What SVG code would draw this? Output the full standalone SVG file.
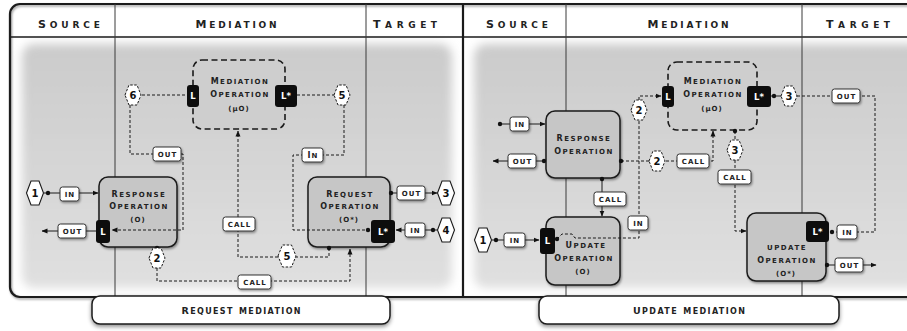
<svg xmlns="http://www.w3.org/2000/svg" width="907" height="331" viewBox="0 0 907 331">
<style>
text{font-family:"DejaVu Sans","Liberation Sans",sans-serif;fill:#222}
.hdr{font-size:12.3px;font-weight:bold;font-variant:small-caps;text-anchor:middle}
.hdr .c{font-size:11px}
.cap{font-size:11px;font-weight:bold;font-variant:small-caps;text-anchor:middle}
.cap .c{font-size:9.5px}
.nt{font-size:9.5px;font-weight:bold;font-variant:small-caps;text-anchor:middle;letter-spacing:1.5px}
.nt .c{font-size:8px}
.ns{font-size:7px;font-weight:bold;text-anchor:middle;letter-spacing:1px}
.lt{font-size:9.5px;font-weight:bold;font-variant:small-caps;text-anchor:middle;letter-spacing:1px}
.lt .c{font-size:8px}
.pt{font-size:8.5px;font-weight:bold;text-anchor:middle;fill:#fff}
.ht{font-size:10px;font-weight:bold;text-anchor:middle;fill:#111}
.sl{fill:none;stroke:#1a1a1a;stroke-width:1}
.dl{fill:none;stroke:#1a1a1a;stroke-width:1;stroke-dasharray:3 2}
.box{fill:#c6c6c6;stroke:#1a1a1a;stroke-width:1.5}
.dbox{fill:#cecece;stroke:#1a1a1a;stroke-width:1.6;stroke-dasharray:6 3.5}
.port{fill:#0d0d0d}
.lbl{fill:#fff;stroke:#333;stroke-width:1}
.hx{fill:#fff;stroke:#1a1a1a;stroke-width:1.1}
.hxd{fill:#fff;stroke:#1a1a1a;stroke-width:1;stroke-dasharray:2.5 1.5}
.dot{fill:#111}
.div{stroke:#3a3a3a;stroke-width:1}
</style>
<defs>
<linearGradient id="bg" x1="0" y1="0" x2="0" y2="1">
<stop offset="0" stop-color="#cbcbcb"/>
<stop offset="1" stop-color="#e0e0e0"/>
</linearGradient>
<filter id="blur" x="-10%" y="-10%" width="120%" height="120%"><feGaussianBlur stdDeviation="5"/></filter>
<filter id="sh" x="-20%" y="-20%" width="140%" height="150%"><feDropShadow dx="1" dy="1.5" stdDeviation="1.2" flood-color="#000" flood-opacity="0.4"/></filter>
<filter id="sh2" x="-10%" y="-30%" width="120%" height="170%"><feDropShadow dx="0" dy="2" stdDeviation="2" flood-color="#000" flood-opacity="0.45"/></filter>
<marker id="ah" viewBox="0 0 6 6" refX="5.5" refY="3" markerWidth="6" markerHeight="6" orient="auto" markerUnits="userSpaceOnUse"><path d="M0,0.5 L6,3 L0,5.5 z" fill="#111"/></marker>
</defs>

<rect x="0" y="0" width="907" height="331" fill="#fff"/>

<g id="frame">
<rect x="22" y="44" width="430" height="244" rx="12" fill="url(#bg)" filter="url(#blur)"/>
<rect x="474" y="44" width="450" height="244" rx="12" fill="url(#bg)" filter="url(#blur)"/>
<rect x="10" y="4" width="930" height="293" rx="10" fill="none" stroke="#1a1a1a" stroke-width="2.2" filter="url(#sh)"/>
<line x1="10" y1="37" x2="907" y2="37" stroke="#1a1a1a" stroke-width="1.4"/>
<line class="div" x1="115" y1="4" x2="115" y2="297"/>
<line class="div" x1="366" y1="4" x2="366" y2="297"/>
<line class="div" x1="566" y1="4" x2="566" y2="297"/>
<line class="div" x1="802" y1="4" x2="802" y2="297"/>
<line x1="463" y1="4" x2="463" y2="297" stroke="#1a1a1a" stroke-width="2.2"/>
<text class="hdr" x="69" y="28" textLength="62" lengthAdjust="spacing"><tspan class="c">S</tspan>ource</text>
<text class="hdr" x="236" y="28" textLength="81" lengthAdjust="spacing"><tspan class="c">M</tspan>ediation</text>
<text class="hdr" x="405" y="28" textLength="64" lengthAdjust="spacing"><tspan class="c">T</tspan>arget</text>
<text class="hdr" x="517" y="28" textLength="62" lengthAdjust="spacing"><tspan class="c">S</tspan>ource</text>
<text class="hdr" x="688" y="28" textLength="81" lengthAdjust="spacing"><tspan class="c">M</tspan>ediation</text>
<text class="hdr" x="858" y="28" textLength="64" lengthAdjust="spacing"><tspan class="c">T</tspan>arget</text>
</g>

<!-- Left panel nodes -->
<g id="l-mediation-op">
<rect class="dbox" x="193" y="60" width="92" height="69" rx="9"/>
<text class="nt" x="240" y="84"><tspan class="c">M</tspan>ediation</text>
<text class="nt" x="240" y="97"><tspan class="c">O</tspan>peration</text>
<text class="ns" x="239" y="111">(μO)</text>
<rect class="port" x="187" y="85" width="12" height="22" rx="3"/>
<text class="pt" x="193" y="99">L</text>
<rect class="port" x="275" y="85" width="22" height="22" rx="3"/>
<text class="pt" x="286" y="99">L*</text>
</g>
<g id="l-response-op">
<rect class="box" x="99" y="177" width="78" height="70" rx="9" filter="url(#sh)"/>
<text class="nt" x="139" y="197"><tspan class="c">R</tspan>esponse</text>
<text class="nt" x="139" y="209"><tspan class="c">O</tspan>peration</text>
<text class="ns" x="138" y="222">(O)</text>
<rect class="port" x="96" y="220" width="14" height="23" rx="3"/>
<text class="pt" x="103" y="235">L</text>
</g>
<g id="l-request-op">
<rect class="box" x="308" y="177" width="82" height="70" rx="9" filter="url(#sh)"/>
<text class="nt" x="350" y="197"><tspan class="c">R</tspan>equest</text>
<text class="nt" x="350" y="209"><tspan class="c">O</tspan>peration</text>
<text class="ns" x="349" y="222">(O*)</text>
<rect class="port" x="371" y="220" width="24" height="23" rx="3"/>
<text class="pt" x="383" y="235">L*</text>
</g>

<!-- Right panel nodes -->
<g id="r-mediation-op">
<rect class="dbox" x="668" y="62" width="89" height="68" rx="9"/>
<text class="nt" x="713" y="84"><tspan class="c">M</tspan>ediation</text>
<text class="nt" x="713" y="97"><tspan class="c">O</tspan>peration</text>
<text class="ns" x="712" y="111">(μO)</text>
<rect class="port" x="662" y="86" width="12" height="21" rx="3"/>
<text class="pt" x="668" y="99.5">L</text>
<rect class="port" x="747" y="86" width="24" height="21" rx="3"/>
<text class="pt" x="759" y="99.5">L*</text>
</g>
<g id="r-response-op">
<rect class="box" x="546" y="111" width="74" height="67" rx="9" filter="url(#sh)"/>
<text class="nt" x="584" y="141"><tspan class="c">R</tspan>esponse</text>
<text class="nt" x="584" y="154"><tspan class="c">O</tspan>peration</text>
</g>
<g id="r-update-op">
<rect class="box" x="546" y="217" width="74" height="68" rx="9" filter="url(#sh)"/>
<text class="nt" x="586" y="248"><tspan class="c">U</tspan>pdate</text>
<text class="nt" x="584" y="261"><tspan class="c">O</tspan>peration</text>
<text class="ns" x="583" y="274">(O)</text>
<rect class="port" x="540" y="228" width="15" height="26" rx="3"/>
<text class="pt" x="547.5" y="244">L</text>
</g>
<g id="r-update-op-star">
<rect class="box" x="747" y="213" width="79" height="68" rx="9" filter="url(#sh)"/>
<text class="nt" x="787" y="250">update</text>
<text class="nt" x="787" y="263"><tspan class="c">O</tspan>peration</text>
<text class="ns" x="786" y="276">(O*)</text>
<rect class="port" x="806" y="221" width="23" height="21" rx="3"/>
<text class="pt" x="817.5" y="234.5">L*</text>
</g>

<!-- Connectors -->
<g id="connectors">
<!-- left panel -->
<path class="sl" d="M44,193 H98" marker-end="url(#ah)"/>
<path class="sl" d="M96,231 H42" marker-end="url(#ah)"/>
<path class="sl" d="M391,193 H437" marker-end="url(#ah)"/>
<path class="sl" d="M437,230 H396" marker-end="url(#ah)"/>
<path class="dl" d="M142,95 H187"/>
<path class="dl" d="M297,95 H334"/>
<path class="dl" d="M130,105 V154 H183 V230 H112" marker-end="url(#ah)"/>
<path class="dl" d="M344,105 V155 H293 V230 H368"/>
<path class="dl" d="M157,268 V281 H350 V249" marker-end="url(#ah)"/>
<path class="dl" d="M329,248 V257 H238 V131" marker-end="url(#ah)"/>
<circle class="dot" cx="48" cy="193" r="2.2"/>
<circle class="dot" cx="391" cy="193" r="2.2"/>
<circle class="dot" cx="433" cy="230" r="2.2"/>
<circle class="dot" cx="368" cy="230" r="2.2"/>
<circle class="dot" cx="157" cy="248" r="2.2"/>
<circle class="dot" cx="329" cy="248" r="2.2"/>
<!-- right panel -->
<path class="sl" d="M500,124 H545" marker-end="url(#ah)"/>
<path class="sl" d="M544,161 H493" marker-end="url(#ah)"/>
<path class="dl" d="M621,161 H713 V131" marker-end="url(#ah)"/>
<path class="sl" d="M602,179 V216" marker-end="url(#ah)"/>
<path class="sl" d="M492,240 H539" marker-end="url(#ah)"/>
<path class="dl" d="M557,239 L562,234 H572 L575,238 H639 V120"/>
<path class="dl" d="M639,100 V96 H661" marker-end="url(#ah)"/>
<path class="sl" d="M771,96 H781"/>
<path class="dl" d="M797,96 H875 V232 H833"/>
<path class="dl" d="M735,131 V140"/>
<path class="dl" d="M735,160 V231 H746" marker-end="url(#ah)"/>
<path class="sl" d="M827,265 H876" marker-end="url(#ah)"/>
<circle class="dot" cx="500" cy="124" r="2.2"/>
<circle class="dot" cx="544" cy="161" r="2.2"/>
<circle class="dot" cx="621" cy="161" r="2.2"/>
<circle class="dot" cx="602" cy="179" r="2.2"/>
<circle class="dot" cx="496" cy="240" r="2.2"/>
<circle class="dot" cx="557" cy="239" r="2.2"/>
<circle class="dot" cx="774" cy="96" r="2.2"/>
<circle class="dot" cx="832" cy="232" r="2.2"/>
<circle class="dot" cx="735" cy="131" r="2.2"/>
<circle class="dot" cx="827" cy="265" r="2.2"/>
<!-- labels -->
<rect class="lbl" x="60" y="187" width="19" height="14" rx="2.5" filter="url(#sh)"/><text class="lt" x="70" y="197">in</text>
<rect class="lbl" x="58" y="224" width="28" height="14" rx="2.5" filter="url(#sh)"/><text class="lt" x="72.5" y="234">out</text>
<rect class="lbl" x="153" y="147" width="28" height="14" rx="2.5" filter="url(#sh)"/><text class="lt" x="167.5" y="157">out</text>
<rect class="lbl" x="302" y="148" width="21" height="14" rx="2.5" filter="url(#sh)"/><text class="lt" x="313" y="158.3"><tspan class="c">I</tspan>n</text>
<rect class="lbl" x="223" y="217" width="32" height="14" rx="2.5" filter="url(#sh)"/><text class="lt" x="239.5" y="227">call</text>
<rect class="lbl" x="238" y="275" width="33" height="14" rx="2.5" filter="url(#sh)"/><text class="lt" x="255" y="285">call</text>
<rect class="lbl" x="397" y="186" width="28" height="14" rx="2.5" filter="url(#sh)"/><text class="lt" x="411.5" y="196">out</text>
<rect class="lbl" x="405" y="223" width="20" height="14" rx="2.5" filter="url(#sh)"/><text class="lt" x="415.5" y="233">in</text>
<rect class="lbl" x="510" y="117" width="19" height="14" rx="2.5" filter="url(#sh)"/><text class="lt" x="520" y="127">in</text>
<rect class="lbl" x="508" y="154" width="28" height="14" rx="2.5" filter="url(#sh)"/><text class="lt" x="522.5" y="164">out</text>
<rect class="lbl" x="677" y="154" width="32" height="14" rx="2.5" filter="url(#sh)"/><text class="lt" x="693.5" y="164">call</text>
<rect class="lbl" x="594" y="192" width="32" height="14" rx="2.5" filter="url(#sh)"/><text class="lt" x="610.5" y="202">call</text>
<rect class="lbl" x="628" y="216" width="20" height="14" rx="2.5" filter="url(#sh)"/><text class="lt" x="638.5" y="226">in</text>
<rect class="lbl" x="504" y="233" width="21" height="14" rx="2.5" filter="url(#sh)"/><text class="lt" x="515" y="243">in</text>
<rect class="lbl" x="832" y="89" width="28" height="14" rx="2.5" filter="url(#sh)"/><text class="lt" x="846.5" y="99">out</text>
<rect class="lbl" x="718" y="170" width="33" height="14" rx="2.5" filter="url(#sh)"/><text class="lt" x="735" y="180">call</text>
<rect class="lbl" x="837" y="225" width="20" height="14" rx="2.5" filter="url(#sh)"/><text class="lt" x="847.5" y="235">in</text>
<rect class="lbl" x="835" y="258" width="28" height="14" rx="2.5" filter="url(#sh)"/><text class="lt" x="849.5" y="268">out</text>
</g>

<!-- Numbered hexagons -->
<g id="hex-l1"><polygon class="hx" points="26.5,193 31,181 39,181 43.5,193 39,205 31,205"/><text class="ht" x="35" y="196.6">1</text></g>
<g id="hex-l3"><polygon class="hx" points="437.5,193 442,181 450,181 454.5,193 450,205 442,205"/><text class="ht" x="446" y="196.6">3</text></g>
<g id="hex-l4"><polygon class="hx" points="437.5,230 442,218 450,218 454.5,230 450,242 442,242"/><text class="ht" x="446" y="233.6">4</text></g>
<g id="hex-l6"><polygon class="hxd" points="125,95 129,85 137,85 141,95 137,105 129,105"/><text class="ht" x="133" y="98.6">6</text></g>
<g id="hex-l5a"><polygon class="hxd" points="334,95 338,85 346,85 350,95 346,105 338,105"/><text class="ht" x="342" y="98.6">5</text></g>
<g id="hex-l2"><polygon class="hxd" points="149,258 153,248 161,248 165,258 161,268 153,268"/><text class="ht" x="157" y="261.6">2</text></g>
<g id="hex-l5b"><polygon class="hxd" points="278,256 282.5,245 291.5,245 296,256 291.5,267 282.5,267"/><text class="ht" x="287" y="259.6">5</text></g>
<g id="hex-r1"><polygon class="hx" points="474.5,240 479,228 487,228 491.5,240 487,252 479,252"/><text class="ht" x="483" y="243.6">1</text></g>
<g id="hex-r2a"><polygon class="hxd" points="631,110 635,100 643,100 647,110 643,120 635,120"/><text class="ht" x="639" y="113.6">2</text></g>
<g id="hex-r2b"><polygon class="hxd" points="649,161 653,151 661,151 665,161 661,171 653,171"/><text class="ht" x="657" y="164.6">2</text></g>
<g id="hex-r3a"><polygon class="hxd" points="781,96 785,86 793,86 797,96 793,106 785,106"/><text class="ht" x="789" y="99.6">3</text></g>
<g id="hex-r3b"><polygon class="hxd" points="727,150 731,140 739,140 743,150 739,160 731,160"/><text class="ht" x="735" y="153.6">3</text></g>

<!-- Captions -->
<g id="caption-left">
<rect x="92" y="296" width="298" height="28" rx="8" fill="#fff" stroke="#1a1a1a" stroke-width="1.5" filter="url(#sh2)"/>
<text class="cap" x="241" y="314" textLength="119" lengthAdjust="spacing"><tspan class="c">R</tspan>equest mediation</text>
</g>
<g id="caption-right">
<rect x="539" y="296" width="300" height="28" rx="8" fill="#fff" stroke="#1a1a1a" stroke-width="1.5" filter="url(#sh2)"/>
<text class="cap" x="689" y="314" textLength="112" lengthAdjust="spacing"><tspan class="c">U</tspan>pdate mediation</text>
</g>
</svg>
